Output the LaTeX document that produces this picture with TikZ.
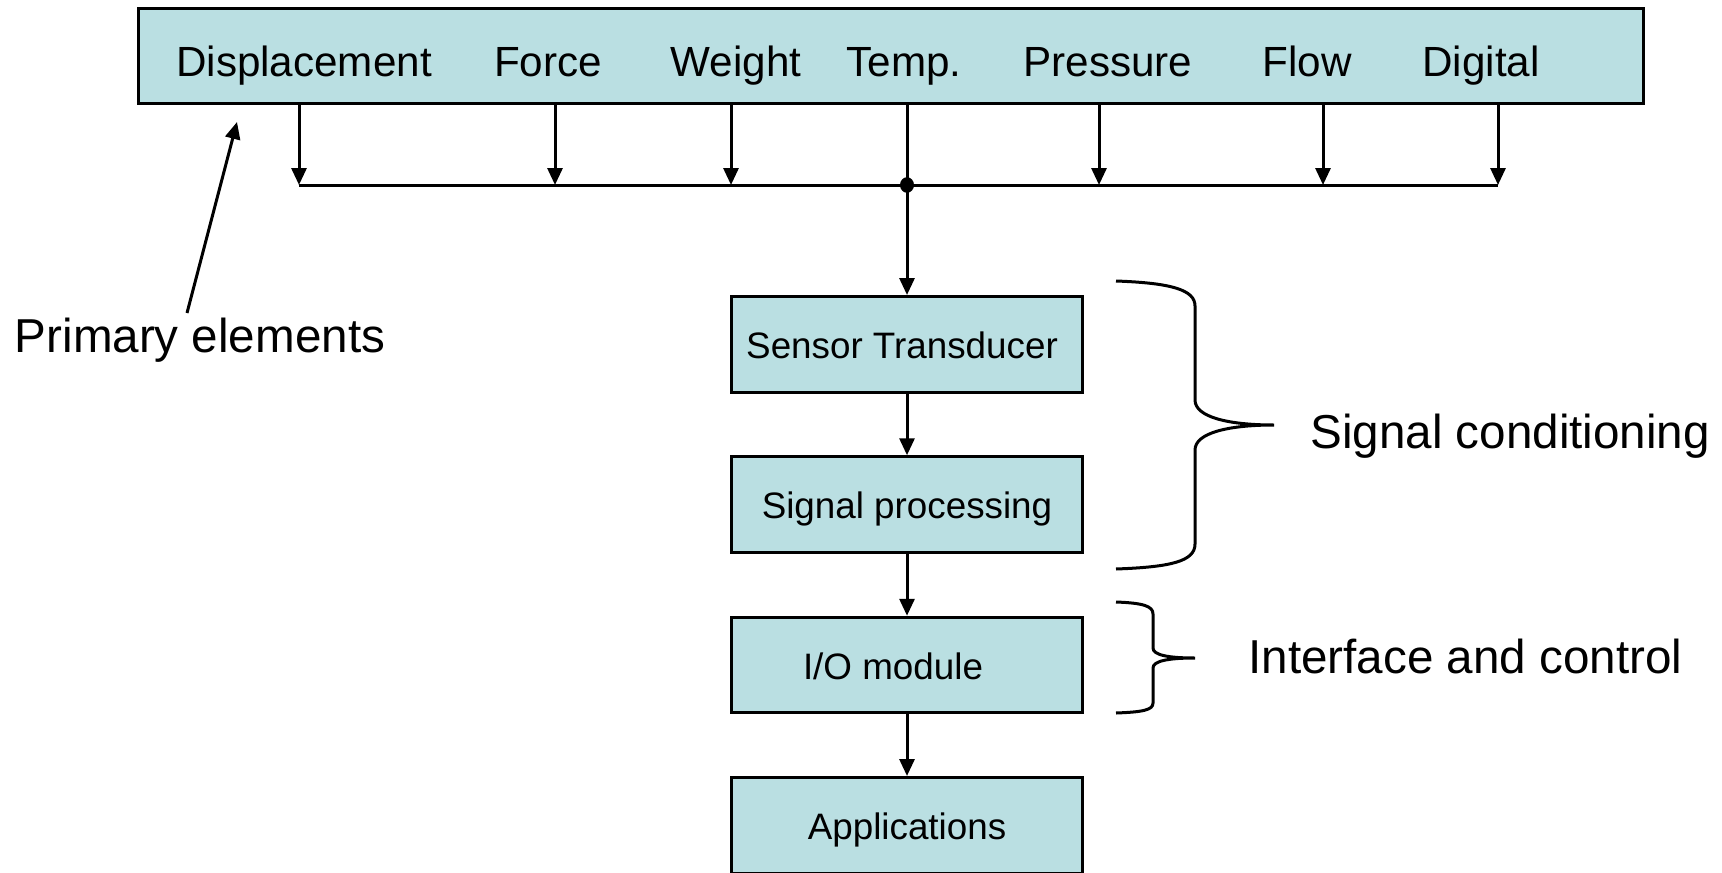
\documentclass[tikz,border=0pt]{standalone}
\usepackage{fontspec}
\setmainfont{Liberation Sans}
\usetikzlibrary{arrows.meta}
\definecolor{boxfill}{RGB}{186,223,226}

\begin{document}
\begin{tikzpicture}[x=0.5pt, y=-0.5pt,
  wire/.style={line width=1.5pt, line cap=butt},
  arr/.style={wire, -{Triangle[length=8.5pt, width=7.5pt]}},
  blk/.style={draw=black, line width=1.5pt, fill=boxfill, inner sep=0pt,
              minimum width=175.75pt, minimum height=47.75pt},
  toplabel/.style={anchor=base, inner sep=0pt, font=\fontsize{21.1}{25}\selectfont},
  boxlabel/.style={anchor=base, inner sep=0pt, font=\fontsize{18.4}{22}\selectfont},
  sidelabel/.style={inner sep=0pt, font=\fontsize{23.8}{28}\selectfont},
  brace/.style={line width=1.5pt}]

  % page frame
  \clip (0,0) rectangle (1722,872);
  \fill[white] (0,0) rectangle (1722,872);

  % bar of measured quantities
  \node[blk, minimum width=752.5pt, minimum height=47.5pt] (bar) at (890.5,56.5) {};
  \node[toplabel] (disp)  at (304,76)  {Displacement};
  \node[toplabel] (force) at (548,76)  {Force};
  \node[toplabel] (wgt)   at (736,76)  {Weight};
  \node[toplabel] (temp)  at (904,76)  {Temp.};
  \node[toplabel] (pres)  at (1108,76) {Pressure};
  \node[toplabel] (flow)  at (1307,76) {Flow};
  \node[toplabel] (dig)   at (1481,76) {Digital};

  % processing chain
  \node[blk] (sensor) at (907,344.25) {};
  \node[blk] (sproc)  at (907,504.5)  {};
  \node[blk] (io)     at (907,665)    {};
  \node[blk] (apps)   at (907,825.25) {};
  \node[boxlabel] at ([xshift=-2.5pt,yshift=-7pt]sensor.center) {Sensor Transducer};
  \node[boxlabel] at ([yshift=-7pt]sproc.center)  {Signal processing};
  \node[boxlabel] at ([xshift=-7pt,yshift=-7pt]io.center) {I/O module};
  \node[boxlabel] at ([yshift=-7pt]apps.center)   {Applications};

  % collecting bus
  \coordinate (d1) at (299,185);
  \coordinate (d2) at (555,185);
  \coordinate (d3) at (731,185);
  \coordinate (d4) at (907,185);
  \coordinate (d5) at (1099,185);
  \coordinate (d6) at (1323,185);
  \coordinate (d7) at (1498,185);
  \foreach \d in {d1,d2,d3,d5,d6,d7}
    \draw[arr] (bar.south -| \d) -- (\d);
  \draw[wire] (d1) -- (d7);
  \fill (d4) ellipse (3.5pt and 3.9pt);
  \draw[arr] (bar.south -| sensor.north) -- (sensor.north);

  \draw[arr] (sensor) -- (sproc);
  \draw[arr] (sproc) -- (io);
  \draw[arr] (io) -- (apps);

  % primary elements pointer
  \node[sidelabel, anchor=base] (prim) at (200,352) {Primary elements};
  \coordinate (ptail) at (187,313);
  \coordinate (phead) at (237,122);
  \draw[arr] (ptail) -- (phead);

  % braces
  \draw[brace] (1116,281) .. controls (1172,283) and (1195,290) .. (1195,306)
    -- (1195,400) .. controls (1195,417) and (1228,425) .. (1274,425)
    .. controls (1228,425) and (1195,433) .. (1195,450)
    -- (1195,544) .. controls (1195,561) and (1172,567) .. (1116,569);
  \node[sidelabel, anchor=base west] (sigcond) at (1310,448) {Signal conditioning};

  \draw[brace] (1116,602) .. controls (1143,603) and (1153,606) .. (1153,614)
    -- (1153,648) .. controls (1153,655) and (1168,658) .. (1195,658)
    .. controls (1168,658) and (1153,661) .. (1153,668)
    -- (1153,703) .. controls (1153,710) and (1143,712) .. (1116,713);
  \node[sidelabel, anchor=base west] (ifctl) at (1248,673) {Interface and control};
\end{tikzpicture}
\end{document}
